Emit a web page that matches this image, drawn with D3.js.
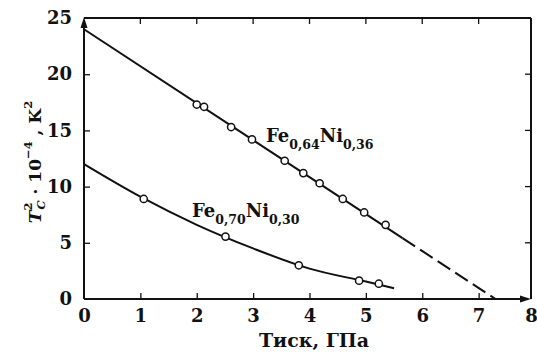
<!DOCTYPE html>
<html>
<head>
<meta charset="utf-8">
<script src="https://cdn.jsdelivr.net/npm/d3@7"></script>
<style>
  html, body { margin: 0; padding: 0; background: #fff; }
  svg { display: block; }
  text { font-family: "DejaVu Serif", serif; fill: #111; }
</style>
</head>
<body>
<svg id="chart" width="537" height="354"></svg>
<script>
// Pressure (GPa) vs T_C^2 · 10^-4 (K^2) for two Fe–Ni Invar alloys

// Fe0.64Ni0.36 — measured points
const pressA = [2.0, 2.13, 2.61, 2.98, 3.56, 3.89, 4.18, 4.59, 4.97, 5.35];
const tcSqA  = [17.3, 17.1, 15.3, 14.2, 12.3, 11.2, 10.3, 8.9, 7.7, 6.6];
// Fe0.64Ni0.36 — fitted straight line (solid) and its extrapolation (dashed)
const fitA_x       = [0, 5.65];
const fitA_y       = [24, 5.42];
const extrapA_x    = [5.65, 7.3];
const extrapA_y    = [5.42, 0];

// Fe0.70Ni0.30 — measured points
const pressB = [1.06, 2.51, 3.81, 4.88, 5.23];
const tcSqB  = [8.9, 5.55, 3.0, 1.63, 1.36];
// Fe0.70Ni0.30 — smooth fitted curve
const fitB_x = [0, 1, 2, 3, 4, 5, 5.5];
const fitB_y = [12, 9.1, 6.6, 4.5, 2.7, 1.55, 0.95];

// Axis ticks
const xTicks = [0, 1, 2, 3, 4, 5, 6, 7, 8];
const yTicks = [0, 5, 10, 15, 20, 25];

const svg = d3.select("#chart");

const x = d3.scaleLinear().domain([0, 8]).range([84, 535]);
const y = d3.scaleLinear().domain([0, 25]).range([299, 18]);

const frameRight = 531;
const ink = "#111";

// Frame: top and right edges
svg.append("line").attr("x1", x(0)).attr("x2", frameRight)
  .attr("y1", y(25)).attr("y2", y(25))
  .attr("stroke", ink).attr("stroke-width", 2);
svg.append("line").attr("x1", frameRight).attr("x2", frameRight)
  .attr("y1", y(25)).attr("y2", y(0))
  .attr("stroke", ink).attr("stroke-width", 2);

// Bottom axis: inward ticks, labels below
const xAxis = d3.axisBottom(x).tickValues(xTicks).tickSize(-6).tickPadding(10)
  .tickFormat(d3.format("d"));
const gx = svg.append("g").attr("transform", `translate(0,${y(0)})`).call(xAxis);
gx.select(".domain").remove();
gx.selectAll(".tick").filter(d => d === 0 || d === 8).select("line").remove();
gx.selectAll(".tick line").attr("stroke", ink).attr("stroke-width", 1.3);
gx.selectAll(".tick text").attr("font-size", 18).attr("font-weight", "bold")
  .style("font-family", "'DejaVu Serif', serif").attr("fill", ink);
// last label sits at the page edge
gx.selectAll(".tick").filter(d => d === 8).select("text").attr("dx", -4);

// Left axis: inward ticks, labels on the left
const yAxis = d3.axisLeft(y).tickValues(yTicks).tickSize(-6).tickPadding(12)
  .tickFormat(d3.format("d"));
const gy = svg.append("g").attr("transform", `translate(${x(0)},0)`).call(yAxis);
gy.select(".domain").remove();
gy.selectAll(".tick").filter(d => d === 0 || d === 25).select("line").remove();
gy.selectAll(".tick line").attr("stroke", ink).attr("stroke-width", 1.3);
gy.selectAll(".tick text").attr("font-size", 18).attr("font-weight", "bold")
  .style("font-family", "'DejaVu Serif', serif").attr("fill", ink);

// Inward ticks along the top edge and the right edge
svg.append("g").selectAll("line").data(xTicks.filter(d => d > 0 && d < 8)).join("line")
  .attr("x1", d => x(d)).attr("x2", d => x(d))
  .attr("y1", y(25)).attr("y2", y(25) + 6)
  .attr("stroke", ink).attr("stroke-width", 1.3);
svg.append("g").selectAll("line").data(yTicks.filter(d => d > 0 && d < 25)).join("line")
  .attr("x1", frameRight).attr("x2", frameRight - 6)
  .attr("y1", d => y(d)).attr("y2", d => y(d))
  .attr("stroke", ink).attr("stroke-width", 1.3);

// Axis lines with arrowheads
svg.append("line").attr("x1", x(0)).attr("x2", x(0)).attr("y1", y(0)).attr("y2", y(25) + 4)
  .attr("stroke", ink).attr("stroke-width", 2);
svg.append("path")
  .attr("d", `M${x(0)},${y(25) - 1} L${x(0) - 3.5},${y(25) + 10} L${x(0) + 3.5},${y(25) + 10} Z`)
  .attr("fill", ink);
svg.append("line").attr("x1", x(0)).attr("x2", frameRight - 4).attr("y1", y(0)).attr("y2", y(0))
  .attr("stroke", ink).attr("stroke-width", 2);
svg.append("path")
  .attr("d", `M${frameRight},${y(0)} L${frameRight - 11},${y(0) - 3.5} L${frameRight - 11},${y(0) + 3.5} Z`)
  .attr("fill", ink);

const line = d3.line().x(d => x(d[0])).y(d => y(d[1]));

// Fe0.64Ni0.36 fitted line and extrapolation
svg.append("path").datum(d3.zip(fitA_x, fitA_y)).attr("d", line)
  .attr("fill", "none").attr("stroke", ink).attr("stroke-width", 2);
svg.append("path").datum(d3.zip(extrapA_x, extrapA_y)).attr("d", line)
  .attr("fill", "none").attr("stroke", ink).attr("stroke-width", 2)
  .attr("stroke-dasharray", "15,6");

// Fe0.70Ni0.30 fitted curve
svg.append("path").datum(d3.zip(fitB_x, fitB_y))
  .attr("d", line.curve(d3.curveMonotoneX))
  .attr("fill", "none").attr("stroke", ink).attr("stroke-width", 2);

// Measured points (open circles)
function drawPoints(xs, ys) {
  svg.append("g").selectAll("circle").data(d3.zip(xs, ys)).join("circle")
    .attr("cx", d => x(d[0])).attr("cy", d => y(d[1])).attr("r", 3.6)
    .attr("fill", "#fff").attr("stroke", ink).attr("stroke-width", 1.5);
}
drawPoints(pressA, tcSqA);
drawPoints(pressB, tcSqB);

// Alloy labels with subscripts
function alloyLabel(px, py, parts) {
  const t = svg.append("text").attr("x", px).attr("y", py)
    .attr("font-size", 18).attr("font-weight", "bold");
  parts.forEach(([s, sub], i) => {
    const ts = t.append("tspan").text(s);
    if (sub) ts.attr("font-size", 12.5).attr("dy", 7);
    else ts.attr("dy", i > 0 ? -7 : 0);
  });
}
alloyLabel(266, 142, [["Fe"], ["0,64", true], ["Ni"], ["0,36", true]]);
alloyLabel(192, 217, [["Fe"], ["0,70", true], ["Ni"], ["0,30", true]]);

// X-axis title
svg.append("text").attr("x", 314).attr("y", 347).attr("text-anchor", "middle")
  .attr("font-size", 19).attr("font-weight", "bold").text("Тиск, ГПа");

// Y-axis title: T_C^2 · 10^-4 , K^2
const yt = svg.append("text").attr("transform", "translate(41,162) rotate(-90)")
  .attr("text-anchor", "middle").attr("font-size", 17).attr("font-weight", "bold");
yt.append("tspan").attr("font-style", "italic").text("T");
yt.append("tspan").attr("font-size", 11.5).attr("dy", -9).text("2");
yt.append("tspan").attr("font-size", 11.5).attr("dy", 13).attr("dx", -7)
  .attr("font-style", "italic").text("C");
yt.append("tspan").attr("dy", -4).text(" · 10");
yt.append("tspan").attr("font-size", 11.5).attr("dy", -9).text("−4");
yt.append("tspan").attr("dy", 9).text(" , K");
yt.append("tspan").attr("font-size", 11.5).attr("dy", -9).text("2");
</script>
</body>
</html>
